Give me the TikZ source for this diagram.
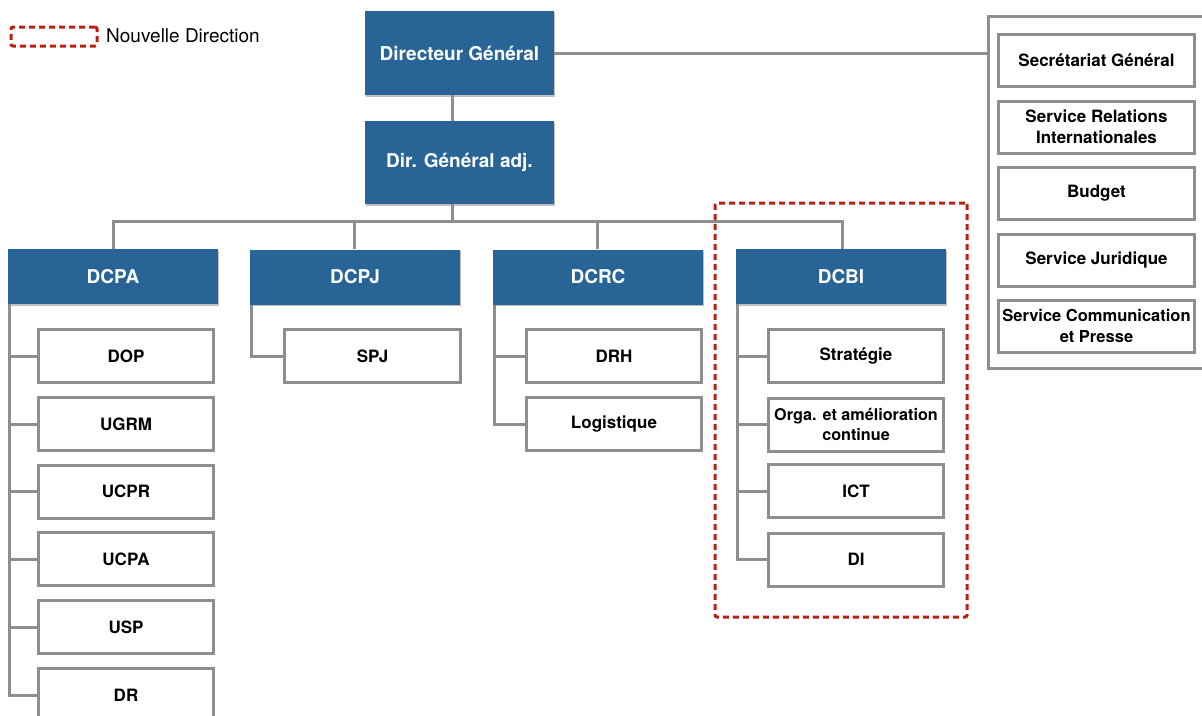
\documentclass[tikz,border=0pt]{standalone}
\usepackage{fontspec}
\setmainfont{TeX Gyre Heros}
\usetikzlibrary{shadows}
\definecolor{hdrblue}{RGB}{40,101,150}
\definecolor{linegray}{RGB}{142,142,146}
\definecolor{newred}{RGB}{190,30,15}
\begin{document}
\begin{tikzpicture}[x=1pt,y=-1pt,
  hdr/.style={fill=hdrblue, text=white, inner sep=0pt, align=center,
    font=\fontsize{19}{22}\selectfont\bfseries,
    drop shadow={shadow xshift=1pt, shadow yshift=-1.5pt, opacity=.25, fill=black}},
  sub/.style={draw=linegray, line width=3pt, fill=white, minimum width=175pt,
    minimum height=53pt, inner sep=0pt, align=center,
    font=\fontsize{17}{21}\selectfont\bfseries},
  grpbox/.style={draw=linegray, line width=3pt, minimum width=196pt, minimum height=52pt,
    inner sep=0pt, align=center, font=\fontsize{17}{21}\selectfont\bfseries},
  conn/.style={draw=linegray, line width=3pt},
  newdir/.style={draw=newred, line width=3pt, dash pattern=on 6pt off 4pt, rounded corners=2pt}]
\useasboundingbox (0,0) rectangle (1202,715);

% legend
\node[newdir, minimum width=86pt, minimum height=19pt, inner sep=0pt] (legbox) at (54,36.5) {};
\node[anchor=west, inner sep=0pt, font=\fontsize{19}{22}\selectfont] (legtxt) at (106,36) {Nouvelle Direction};

% right group
\node[draw=linegray, line width=3pt, minimum width=227pt, minimum height=352pt, inner sep=0pt] (grp) at (1101.5,192) {};
\node[grpbox] (sg) at (1096.5,60.5) {Secrétariat Général};
\node[grpbox] (sri) at (1096.5,127) {Service Relations\\Internationales};
\node[grpbox] (bud) at (1096.5,193.5) {Budget};
\node[grpbox] (sj) at (1096.5,260) {Service Juridique};
\node[grpbox, font=\fontsize{16.5}{20.5}\selectfont\bfseries] (scp) at (1096.5,326) {Service Communication\\et Presse};

% top
\node[hdr, minimum width=189pt, minimum height=84pt] (dg) at (459.5,53) {Directeur Général};
\node[hdr, minimum width=189pt, minimum height=83pt] (dga) at (459.5,162.5) {Dir. Général adj.};

% directions
\node[hdr, minimum width=210pt, minimum height=55pt] (dcpa) at (113,276.5) {DCPA};
\node[hdr, minimum width=210pt, minimum height=55pt] (dcpj) at (355,277) {DCPJ};
\node[hdr, minimum width=210pt, minimum height=55pt] (dcrc) at (598,277) {DCRC};
\node[hdr, minimum width=210pt, minimum height=55pt] (dcbi) at (841,276.5) {DCBI};

% connectors top
\coordinate (bus) at (452,221);
\draw[conn] (dg.east) -- (dg.east -| grp.west);
\draw[conn] ([xshift=-7.5pt]dg.south) -- ([xshift=-7.5pt]dga.north);
\draw[conn] ([xshift=-7.5pt]dga.south) -- (bus);
\draw[conn] (dcpa.north) -- (dcpa.north |- bus) -- ([xshift=1pt]dcbi.north |- bus) -- ([xshift=1pt]dcbi.north);
\draw[conn] ([xshift=-1pt]dcpj.north) -- ([xshift=-1pt]dcpj.north |- bus);
\draw[conn] ([xshift=-1pt]dcrc.north) -- ([xshift=-1pt]dcrc.north |- bus);

% DCPA subs
\node[sub] (dop) at (126,356) {DOP};
\node[sub] (ugrm) at (126,424) {UGRM};
\node[sub] (ucpr) at (126,491.5) {UCPR};
\node[sub] (ucpa) at (126,559) {UCPA};
\node[sub] (usp) at (126,627) {USP};
\node[sub] (dr) at (126,695) {DR};
\foreach \s in {dop,ugrm,ucpr,ucpa,usp,dr}
  \draw[conn] ([xshift=1.5pt]dcpa.south west) |- (\s.west);

% DCPJ subs
\node[sub, minimum width=176pt] (spj) at (372.5,356) {SPJ};
\draw[conn] ([xshift=1.5pt]dcpj.south west) |- (spj.west);

% DCRC subs
\node[sub] (drh) at (614,356) {DRH};
\node[sub] (log) at (614,424) {Logistique};
\foreach \s in {drh,log}
  \draw[conn] ([xshift=1.5pt]dcrc.south west) |- (\s.west);

% DCBI subs
\node[sub] (strat) at (856,356) {Stratégie};
\node[sub, font=\fontsize{16.2}{20.5}\selectfont\bfseries] (orga) at (856,424.5) {Orga. et amélioration\\continue};
\node[sub] (ict) at (856,491) {ICT};
\node[sub] (di) at (856,559.5) {DI};
\foreach \s in {strat,orga,ict,di}
  \draw[conn] ([xshift=1.5pt]dcbi.south west) |- (\s.west);

% new direction frame
\node[newdir, minimum width=252pt, minimum height=414pt, inner sep=0pt] (newframe) at (841,410) {};
\end{tikzpicture}
\end{document}
